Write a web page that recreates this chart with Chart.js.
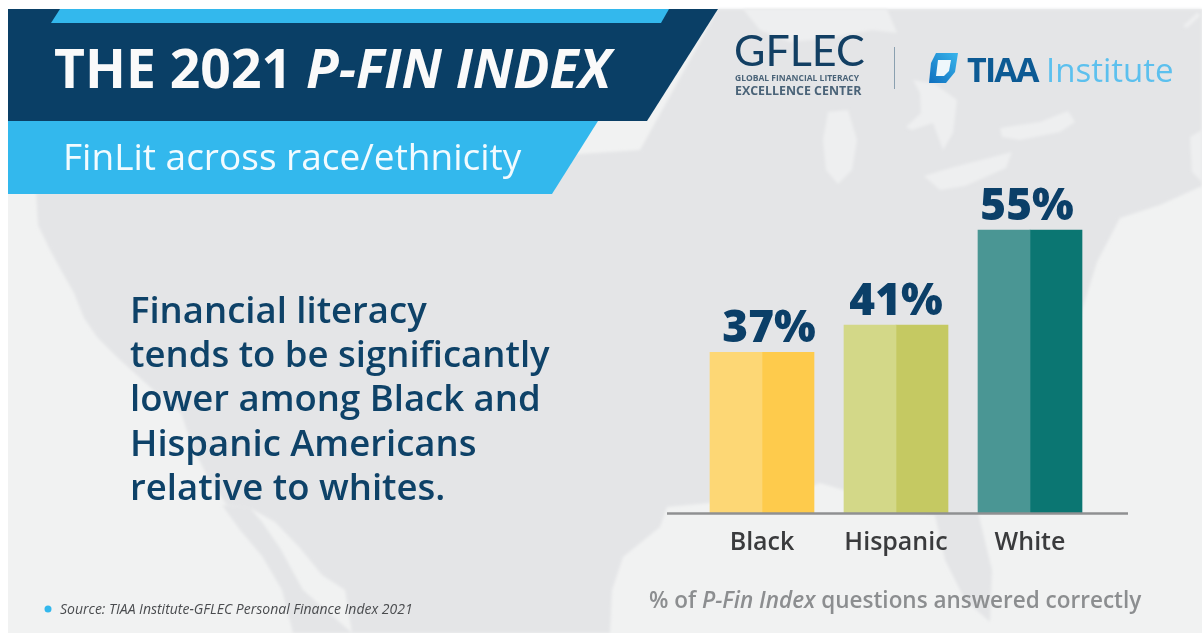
<!DOCTYPE html>
<html>
<head>
<meta charset="utf-8">
<title>The 2021 P-Fin Index</title>
<script src="https://cdn.jsdelivr.net/npm/chart.js@4"></script>
<style>
    html, body { margin: 0; padding: 0; background: #fff; }
    #wrap { position: relative; width: 1202px; height: 633px; overflow: hidden; font-family: "Open Sans", sans-serif; }
    #bg, #chart { position: absolute; left: 0; top: 0; }
    #bg text { font-family: "Open Sans", sans-serif; filter: blur(0.45px); }
    #chart { filter: blur(0.45px); }
</style>
</head>
<body>
<div id="wrap">
<svg id="bg" width="1202" height="633" viewBox="0 0 1202 633">
    <defs>
        <filter id="soft"><feGaussianBlur stdDeviation="1.5"/></filter>
        <linearGradient id="mark" x1="0" y1="1" x2="1" y2="0">
            <stop offset="0" stop-color="#0f6fbe"/>
            <stop offset="1" stop-color="#39b5ec"/>
        </linearGradient>
    </defs>
    <rect x="8" y="9" width="1194" height="624" fill="#f1f2f2"/>
    <g fill="#e4e5e7" filter="url(#soft)">
        <path d="M36 190 L38 225 L50 250 L62 272 L74 293 L84 318 L97 337 L118 358 L139 377 L160 396 L181 413 L192 445 L208 478 L227 505 L250 508 L275 522 L300 548 L322 575 L345 590 L352 633 L610 633 L612 590 L623 557 L660 527 L667 507 L720 502 L790 495 L820 483 L860 495 L900 510 L935 515 L945 560 L965 600 L990 622 L992 570 L978 512 L985 470 L1020 420 L1060 370 L1083 307 L1097 262 L1120 218 L1160 205 L1202 186 L1202 9 L718 9 L640 150 Z"/>
        <path d="M222 505 L240 530 L262 556 L282 590 L293 633 L352 633 L303 590 L280 548 L262 522 L250 508 Z"/>
    </g>
    <g fill="#eeeff0" filter="url(#soft)">
        <path d="M743 9 L887 9 L897 33 L872 30 L830 38 L790 42 L760 30 Z"/>
        <path d="M828 112 L848 110 L857 140 L852 170 L838 184 L826 170 L823 140 Z"/>
        <path d="M906 127 L921 113 L920 93 L913 80 L935 84 L957 100 L953 133 L943 150 L933 123 L912 130 Z"/>
        <path d="M924 176 L950 168 L1012 152 L1006 168 L965 186 L940 190 Z"/>
        <path d="M1000 128 L1040 122 L1068 111 L1075 122 L1060 132 L1020 140 L1002 137 Z"/>
        <path d="M1190 137 L1202 130 L1202 182 L1192 172 Z"/>
        <path d="M1183 26 L1198 12 L1200 16 L1187 28 Z"/>
    </g>

    <polygon points="8,9 718,9 647,121 8,121" fill="#0a3f66"/>
    <polygon points="60,9 669,9 661,23 51,23" fill="#33b8ed"/>
    <polygon points="8,121 598,121 552,194 8,194" fill="#33b8ed"/>
    <text x="54" y="88" font-size="53.5" font-weight="700" fill="#fafafa">THE 2021 <tspan font-style="italic">P-FIN INDEX</tspan></text>
    <text x="63" y="170" font-size="37" fill="#f2fbff">FinLit across race/ethnicity</text>

    <text x="734" y="66" font-size="43" fill="#123f63" style="font-family:Lato">GFLEC</text>
    <text x="735" y="81" font-size="8.5" font-weight="700" fill="#4a6378">GLOBAL FINANCIAL LITERACY</text>
    <text x="735" y="95" font-size="12.4" font-weight="700" fill="#4a6378">EXCELLENCE CENTER</text>
    <rect x="894" y="47" width="1" height="42" fill="#8aa0b0"/>
    <polygon points="936,53 958,53 955,72 946,83 929,83 931,63" fill="url(#mark)"/>
    <polygon points="938,60 951,60 949,71 944,76 936,76" fill="#eef7fb"/>
    <text x="967" y="82" font-size="34" font-weight="700" fill="#0c5a94" letter-spacing="-1.8">TIAA</text>
    <text x="1046" y="82" font-size="33" fill="#5cc0ee">Institute</text>

    <g font-size="36.5" font-weight="600" fill="#0e4268">
        <text x="130" y="323">Financial literacy</text>
        <text x="130" y="367">tends to be significantly</text>
        <text x="130" y="411">lower among Black and</text>
        <text x="130" y="456">Hispanic Americans</text>
        <text x="130" y="500">relative to whites.</text>
    </g>

    <circle cx="48" cy="609" r="3.5" fill="#33b8ed"/>
    <text x="60" y="614" font-size="14" font-style="italic" fill="#4a4c4f">Source: TIAA Institute-GFLEC Personal Finance Index 2021</text>
    <text x="649" y="608" font-size="22.5" font-weight="600" fill="#8c8e90">% of <tspan font-style="italic">P-Fin Index</tspan> questions answered correctly</text>
</svg>
<canvas id="chart" width="1202" height="633"></canvas>
</div>

<script>
var categories = ['Black', 'Hispanic', 'White'];
var correctPct = [37, 41, 55];
var pctLabels = ['37%', '41%', '55%'];
var lightColors = ['#fdd775', '#d3d888', '#4a9694'];
var darkColors = ['#fecb4c', '#c5c962', '#0b7672'];
var labelShift = [7, 0, -3];

// the axis in the picture does not start at zero, the bars fit a cut-off scale
var yMin = 13.3;
var yMax = 60;

var barLabels = {
    id: 'barLabels',
    afterDatasetsDraw: function(chart) {
        var c = chart.ctx;
        var x = chart.scales.x;
        var y = chart.scales.y;
        c.save();
        c.font = '800 44px "Open Sans"';
        c.fillStyle = '#0b3f68';
        c.textAlign = 'center';
        c.textBaseline = 'alphabetic';
        correctPct.forEach(function(v, i) {
            c.fillText(pctLabels[i], x.getPixelForValue(i) + labelShift[i], y.getPixelForValue(v) - 10);
        });
        c.restore();
    }
};

var baseLine = {
    id: 'baseLine',
    afterDatasetsDraw: function(chart) {
        var c = chart.ctx;
        var a = chart.chartArea;
        c.save();
        c.strokeStyle = '#8f9092';
        c.lineWidth = 2.5;
        c.beginPath();
        c.moveTo(a.left - 28, a.bottom);
        c.lineTo(a.right + 31, a.bottom);
        c.stroke();
        c.restore();
    }
};

new Chart(document.getElementById('chart').getContext('2d'), {
    type: 'bar',
    data: {
        labels: categories,
        datasets: [
            { data: correctPct, backgroundColor: lightColors },
            { data: correctPct, backgroundColor: darkColors }
        ]
    },
    options: {
        responsive: false,
        animation: false,
        barThickness: 52,
        layout: { padding: { left: 695, right: 105, top: 196, bottom: 61.5 } },
        plugins: { legend: { display: false }, tooltip: { enabled: false } },
        scales: {
            x: {
                border: { display: false },
                grid: { display: false, drawTicks: false },
                ticks: { color: '#3a3b3d', padding: 14, font: { family: 'Open Sans', size: 25, weight: '600' }, maxRotation: 0 }
            },
            y: { display: false, min: yMin, max: yMax }
        }
    },
    plugins: [barLabels, baseLine]
});
</script>
</body>
</html>
